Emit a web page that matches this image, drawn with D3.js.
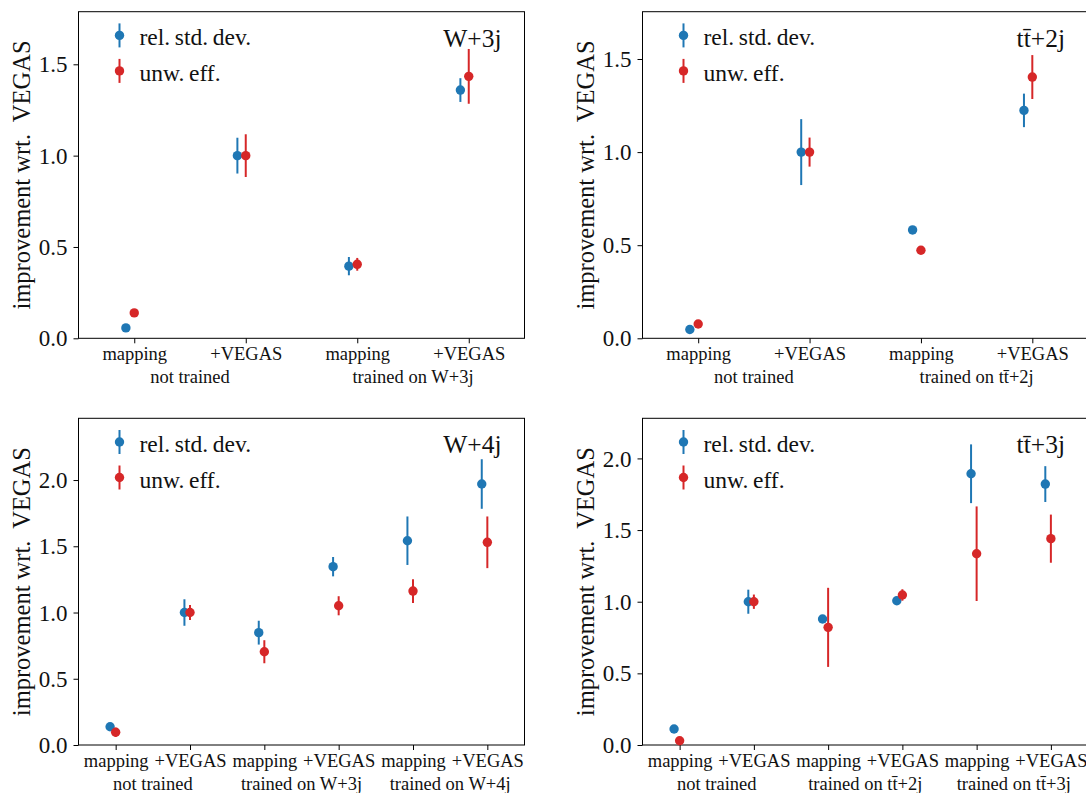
<!DOCTYPE html>
<html>
<head>
<meta charset="utf-8">
<script src="https://cdn.jsdelivr.net/npm/d3@7"></script>
<style>
  body { margin: 0; background: #fff; }
</style>
</head>
<body>
<svg id="chart" width="1086" height="793" font-family="Liberation Serif"></svg>
<script>
var blue = "#1f77b4", red = "#d62728";
var serif = "'Liberation Serif', 'DejaVu Serif', serif";

// categories / group labels
var cats4 = ["mapping", "+VEGAS", "mapping", "+VEGAS"];
var cats6 = ["mapping", "+VEGAS", "mapping", "+VEGAS", "mapping", "+VEGAS"];
var groupsW3 = ["not trained", "trained on W+3j"];
var groupsTT2 = ["not trained", "trained on t\u0074\u0304+2j"];
var groupsW4 = ["not trained", "trained on W+3j", "trained on W+4j"];
var groupsTT3 = ["not trained", "trained on t\u0074\u0304+2j", "trained on t\u0074\u0304+3j"];
var yTicksA = [0, 0.5, 1.0, 1.5];
var yTicksB = [0, 0.5, 1.0, 1.5, 2.0];

// W+3j
var w3Std = [0.057, 1.0, 0.395, 1.359];
var w3StdErr = [0, 0.098, 0.05, 0.065];
var w3Eff = [0.139, 1.0, 0.405, 1.434];
var w3EffErr = [0, 0.117, 0.035, 0.15];

// tt+2j
var tt2Std = [0.047, 1.0, 0.582, 1.224];
var tt2StdErr = [0, 0.177, 0, 0.09];
var tt2Eff = [0.077, 1.0, 0.473, 1.403];
var tt2EffErr = [0, 0.078, 0, 0.118];

// W+4j
var w4Std = [0.138, 1.0, 0.848, 1.346, 1.542, 1.970];
var w4StdErr = [0.01, 0.10, 0.09, 0.073, 0.183, 0.187];
var w4Eff = [0.096, 1.0, 0.704, 1.051, 1.162, 1.530];
var w4EffErr = [0.035, 0.057, 0.087, 0.072, 0.09, 0.195];

// tt+3j
var tt3Std = [0.112, 1.0, 0.879, 1.007, 1.893, 1.821];
var tt3StdErr = [0, 0.084, 0.01, 0.01, 0.205, 0.125];
var tt3Eff = [0.030, 1.0, 0.821, 1.047, 1.335, 1.44];
var tt3EffErr = [0.01, 0.05, 0.276, 0.04, 0.33, 0.168];

var svg = d3.select("#chart");

function drawPanel(p) {
    var n = p.cats.length;
    var x = d3.scaleLinear().domain([-0.5, n - 0.5]).range([p.left, p.right]);
    var y = d3.scaleLinear().domain([0, p.ymax]).range([p.bottom, p.top]);
    var g = svg.append("g");

    // y axis
    var ya = g.append("g")
        .attr("transform", "translate(" + p.left + ",0)")
        .call(d3.axisLeft(y).tickValues(p.yTicks).tickFormat(d3.format(".1f")).tickSizeOuter(0).tickSize(5).tickPadding(6));
    ya.attr("font-family", null).attr("font-size", null);
    ya.select(".domain").remove();
    ya.selectAll("line").attr("stroke", "#000");
    ya.selectAll("text").attr("fill", "#111")
        .style("font-family", serif).style("font-size", "23px").attr("dy", "0.33em");

    // x axis
    var xa = g.append("g")
        .attr("transform", "translate(0," + p.bottom + ")")
        .call(d3.axisBottom(x).tickValues(d3.range(n)).tickFormat(function (i) { return p.cats[i]; })
            .tickSizeOuter(0).tickSize(5).tickPadding(6));
    xa.attr("font-family", null).attr("font-size", null);
    xa.select(".domain").remove();
    xa.selectAll("line").attr("stroke", "#000");
    xa.selectAll("text").attr("fill", "#111")
        .style("font-family", serif).style("font-size", "18.5px").attr("dy", null).attr("y", 22);

    // group labels
    g.selectAll(".grp").data(p.groups).enter().append("text")
        .attr("class", "grp")
        .attr("x", function (d, i) { return x(2 * i + 0.5); })
        .attr("y", p.bottom + 45)
        .attr("text-anchor", "middle")
        .attr("fill", "#111")
        .style("font-family", serif).style("font-size", "18.5px")
        .text(function (d) { return d; });

    // frame
    g.append("rect")
        .attr("x", p.left).attr("y", p.top)
        .attr("width", p.right - p.left).attr("height", p.bottom - p.top)
        .attr("fill", "none").attr("stroke", "#000").attr("stroke-width", 1);

    // y label
    g.append("text")
        .attr("transform", "translate(" + (p.left - 57) + "," + ((p.top + p.bottom) / 2) + ") rotate(-90)")
        .attr("text-anchor", "middle")
        .attr("dy", "0.35em")
        .attr("fill", "#111")
        .style("font-family", serif).style("font-size", "24.5px")
        .style("white-space", "pre")
        .text("improvement wrt.  VEGAS");

    // series: blue slightly left, red on the tick
    var series = [
        { vals: p.std, errs: p.stdErr, color: blue, off: -0.075 },
        { vals: p.eff, errs: p.effErr, color: red, off: 0 }
    ];
    series.forEach(function (s) {
        var sg = g.append("g");
        sg.selectAll("line").data(s.vals).enter().append("line")
            .attr("x1", function (d, i) { return x(i + s.off); })
            .attr("x2", function (d, i) { return x(i + s.off); })
            .attr("y1", function (d, i) { return y(d - s.errs[i]); })
            .attr("y2", function (d, i) { return y(d + s.errs[i]); })
            .attr("stroke", s.color).attr("stroke-width", 2);
        sg.selectAll("circle").data(s.vals).enter().append("circle")
            .attr("cx", function (d, i) { return x(i + s.off); })
            .attr("cy", function (d) { return y(d); })
            .attr("r", 4.7)
            .attr("fill", s.color);
    });

    // legend
    var legend = [["rel.\u2009std.\u2009dev.", blue, 23.7], ["unw.\u2009eff.", red, 59.2]];
    legend.forEach(function (l) {
        var ly = p.top + l[2], lx = p.left + 41;
        g.append("line").attr("x1", lx).attr("x2", lx).attr("y1", ly - 12).attr("y2", ly + 12)
            .attr("stroke", l[1]).attr("stroke-width", 2);
        g.append("circle").attr("cx", lx).attr("cy", ly).attr("r", 4.7).attr("fill", l[1]);
        g.append("text").attr("x", lx + 20).attr("y", ly + 10)
            .attr("fill", "#111")
            .style("font-family", serif).style("font-size", "23.5px")
            .text(l[0]);
    });

    // process title
    g.append("text")
        .attr("x", p.right - 23).attr("y", p.top + 35)
        .attr("text-anchor", "end")
        .attr("fill", "#111")
        .style("font-family", serif).style("font-size", "25.5px")
        .text(p.title);
}

drawPanel({ left: 78.5, right: 524.5, top: 11.7, bottom: 338.3, ymax: 1.788, yTicks: yTicksA,
    cats: cats4, groups: groupsW3, title: "W+3j",
    std: w3Std, stdErr: w3StdErr, eff: w3Eff, effErr: w3EffErr });

drawPanel({ left: 642.5, right: 1088, top: 11.7, bottom: 338.3, ymax: 1.754, yTicks: yTicksA,
    cats: cats4, groups: groupsTT2, title: "t\u0074\u0304+2j",
    std: tt2Std, stdErr: tt2StdErr, eff: tt2Eff, effErr: tt2EffErr });

drawPanel({ left: 78.5, right: 524.5, top: 418.3, bottom: 745, ymax: 2.466, yTicks: yTicksB,
    cats: cats6, groups: groupsW4, title: "W+4j",
    std: w4Std, stdErr: w4StdErr, eff: w4Eff, effErr: w4EffErr });

drawPanel({ left: 642.5, right: 1088, top: 418.3, bottom: 745, ymax: 2.28, yTicks: yTicksB,
    cats: cats6, groups: groupsTT3, title: "t\u0074\u0304+3j",
    std: tt3Std, stdErr: tt3StdErr, eff: tt3Eff, effErr: tt3EffErr });
</script>
</body>
</html>
